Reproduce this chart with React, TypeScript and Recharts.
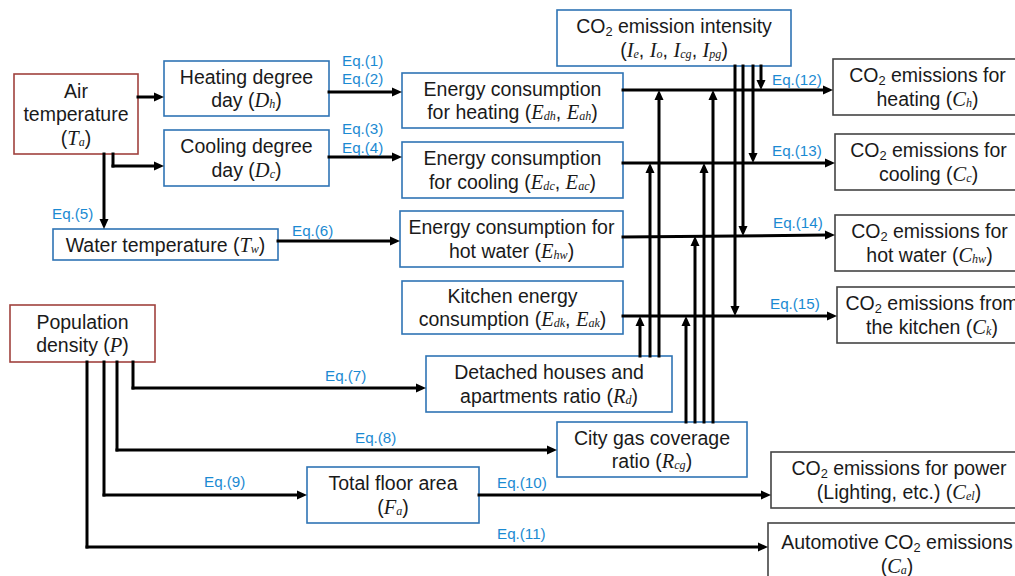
import React from 'react';
import {
  ScatterChart,
  Scatter,
  XAxis,
  YAxis,
  ReferenceArea,
  ReferenceLine,
  ReferenceDot,
} from 'recharts';

// diagram coordinates are in pixels of the 1015x576 picture
const inputNodes = [
  { id: 'air', x1: 14, y1: 74, x2: 138, y2: 154, lines: ['Air', 'temperature', '({T|a})'] },
  { id: 'pop', x1: 10, y1: 305, x2: 155, y2: 362, lines: ['Population', 'density ({P})'] },
];

const modelNodes = [
  { id: 'hdd', x1: 164, y1: 61, x2: 329, y2: 116, lines: ['Heating degree', 'day ({D|h})'] },
  { id: 'cdd', x1: 164, y1: 130, x2: 329, y2: 186, lines: ['Cooling degree', 'day ({D|c})'] },
  { id: 'water', x1: 53, y1: 229, x2: 278, y2: 260, lines: ['Water temperature ({T|w})'] },
  { id: 'int', x1: 557, y1: 10, x2: 791, y2: 66, lines: ['CO_2 emission intensity', '({I|e}, {I|o}, {I|cg}, {I|pg})'] },
  { id: 'eh', x1: 402, y1: 73, x2: 623, y2: 128, lines: ['Energy consumption', 'for heating ({E|dh}, {E|ah})'] },
  { id: 'ec', x1: 402, y1: 142, x2: 623, y2: 198, lines: ['Energy consumption', 'for cooling ({E|dc}, {E|ac})'] },
  { id: 'ehw', x1: 400, y1: 211, x2: 623, y2: 267, lines: ['Energy consumption for', 'hot water ({E|hw})'] },
  { id: 'ek', x1: 402, y1: 281, x2: 623, y2: 334, lines: ['Kitchen energy', 'consumption ({E|dk}, {E|ak})'] },
  { id: 'rd', x1: 426, y1: 356, x2: 672, y2: 412, lines: ['Detached houses and', 'apartments ratio ({R|d})'] },
  { id: 'rcg', x1: 557, y1: 422, x2: 747, y2: 477, lines: ['City gas coverage', 'ratio ({R|cg})'] },
  { id: 'fa', x1: 307, y1: 467, x2: 479, y2: 523, lines: ['Total floor area', '({F|a})'] },
];

const outputNodes = [
  { id: 'ch', x1: 833, y1: 59, x2: 1022, y2: 115, lines: ['CO_2 emissions for', 'heating ({C|h})'] },
  { id: 'cc', x1: 835, y1: 134, x2: 1022, y2: 190, lines: ['CO_2 emissions for', 'cooling ({C|c})'] },
  { id: 'chw', x1: 835, y1: 215, x2: 1024, y2: 271, lines: ['CO_2 emissions for', 'hot water ({C|hw})'] },
  { id: 'ck', x1: 837, y1: 287, x2: 1027, y2: 343, lines: ['CO_2 emissions from', 'the kitchen ({C|k})'] },
  { id: 'cel', x1: 771, y1: 452, x2: 1027, y2: 508, lines: ['CO_2 emissions for power', '(Lighting, etc.)  ({C|el})'] },
  { id: 'ca', x1: 768, y1: 523, x2: 1026, y2: 585, lines: ['Automotive CO_2 emissions', '({C|a})'] },
];

// every link ends with an arrow head
const links = [
  [[138, 97], [164, 97]],
  [[113, 154], [113, 166], [164, 166]],
  [[104, 154], [104, 229]],
  [[329, 92], [402, 92]],
  [[329, 157], [402, 157]],
  [[278, 241], [400, 241]],
  [[623, 90], [833, 90]],
  [[623, 163], [835, 163]],
  [[623, 237], [835, 235]],
  [[623, 316], [837, 316]],
  [[761, 66], [761, 90]],
  [[753, 66], [753, 163]],
  [[743, 66], [743, 236]],
  [[735, 66], [735, 316]],
  [[640, 356], [640, 316]],
  [[650, 356], [650, 163]],
  [[659, 356], [659, 90]],
  [[686, 422], [686, 316]],
  [[695, 422], [695, 236]],
  [[704, 422], [704, 163]],
  [[713, 422], [713, 90]],
  [[133, 362], [133, 388], [426, 388]],
  [[117, 362], [117, 450], [557, 450]],
  [[104, 362], [104, 495], [307, 495]],
  [[87, 362], [87, 547], [768, 547]],
  [[479, 495], [771, 495]],
];

const eqLabels = [
  { text: 'Eq.(1)', x: 342, y: 60 },
  { text: 'Eq.(2)', x: 342, y: 78 },
  { text: 'Eq.(3)', x: 342, y: 128 },
  { text: 'Eq.(4)', x: 342, y: 147 },
  { text: 'Eq.(5)', x: 52, y: 213 },
  { text: 'Eq.(6)', x: 292, y: 230 },
  { text: 'Eq.(7)', x: 325, y: 375 },
  { text: 'Eq.(8)', x: 355, y: 437 },
  { text: 'Eq.(9)', x: 204, y: 481 },
  { text: 'Eq.(10)', x: 497, y: 482 },
  { text: 'Eq.(11)', x: 497, y: 533 },
  { text: 'Eq.(12)', x: 772, y: 79 },
  { text: 'Eq.(13)', x: 772, y: 150 },
  { text: 'Eq.(14)', x: 773, y: 222 },
  { text: 'Eq.(15)', x: 770, y: 303 },
];

const SANS = '"Liberation Sans", Arial, sans-serif';
const SERIF = '"Liberation Serif", "Times New Roman", serif';
const FS = 19.5;
const LH = 23.5;
const strokeOf: Record<string, string> = { input: '#a0423e', model: '#2f74b5', output: '#444444' };

function richSpans(src: string) {
  const parts = src.split(/(\{[^}]+\}|_\d)/g).filter((p) => p !== '');
  const out: React.ReactNode[] = [];
  let shift = 0;
  parts.forEach((p, i) => {
    const back = shift ? -shift : undefined;
    shift = 0;
    if (p.startsWith('_')) {
      out.push(<tspan key={i} dy={(back || 0) + 5} fontSize={FS * 0.66}>{p.slice(1)}</tspan>);
      shift = 5;
    } else if (p.startsWith('{')) {
      const [v, s] = p.slice(1, -1).split('|');
      out.push(
        <tspan key={i + 'v'} dy={back} fontFamily={SERIF} fontStyle="italic" fontSize={FS * 1.05}>{v}</tspan>
      );
      if (s) {
        out.push(
          <tspan key={i + 's'} dy={4} fontFamily={SERIF} fontStyle="italic" fontSize={FS * 0.62}>{s}</tspan>
        );
        shift = 4;
      }
    } else {
      out.push(<tspan key={i} dy={back}>{p}</tspan>);
    }
  });
  return out;
}

function NodeShape(props: any) {
  const { x, y, width, height, node, kind } = props;
  const cx = x + width / 2;
  const cy = y + height / 2;
  const n = node.lines.length;
  return (
    <g>
      <rect x={x} y={y} width={width} height={height} fill="#fff" stroke={strokeOf[kind]} strokeWidth={1.6} />
      {node.lines.map((ln: string, i: number) => (
        <text
          key={i}
          x={cx}
          y={cy + (i - (n - 1) / 2) * LH}
          textAnchor="middle"
          dominantBaseline="central"
          fontFamily={SANS}
          fontSize={FS}
          fill="#1a1a1a"
        >
          {richSpans(ln)}
        </text>
      ))}
    </g>
  );
}

function Segment(props: any) {
  const x1 = Number(props.x1), y1 = Number(props.y1), x2 = Number(props.x2), y2 = Number(props.y2);
  if (!props.arrow) {
    return <line x1={x1} y1={y1} x2={x2} y2={y2} stroke="#000" strokeWidth={3} strokeLinecap="square" />;
  }
  const len = Math.hypot(x2 - x1, y2 - y1) || 1;
  const ux = (x2 - x1) / len, uy = (y2 - y1) / len;
  const L = 10, hw = 4.5;
  const bx = x2 - ux * L, by = y2 - uy * L;
  const pts = `${x2},${y2} ${bx - uy * hw},${by + ux * hw} ${bx + uy * hw},${by - ux * hw}`;
  return (
    <g>
      <line x1={x1} y1={y1} x2={bx + ux} y2={by + uy} stroke="#000" strokeWidth={3} strokeLinecap="square" />
      <polygon points={pts} fill="#000" />
    </g>
  );
}

export default function App() {
  const nodes = [
    ...inputNodes.map((n) => ({ n, kind: 'input' })),
    ...modelNodes.map((n) => ({ n, kind: 'model' })),
    ...outputNodes.map((n) => ({ n, kind: 'output' })),
  ];
  const segs: { a: number[]; b: number[]; arrow: boolean }[] = [];
  links.forEach((pts) => {
    for (let i = 0; i < pts.length - 1; i++) {
      segs.push({ a: pts[i], b: pts[i + 1], arrow: i === pts.length - 2 });
    }
  });
  return (
    <div style={{ position: 'absolute', left: 0, top: 0, width: 1015, height: 576, background: '#fff' }}>
      <ScatterChart width={1015} height={576} margin={{ top: 0, right: 0, bottom: 0, left: 0 }}>
        <XAxis type="number" dataKey="x" domain={[0, 1015]} allowDataOverflow hide />
        <YAxis type="number" dataKey="y" domain={[0, 576]} allowDataOverflow reversed hide />
        <Scatter data={[]} isAnimationActive={false} />
        {segs.map((s, i) => (
          <ReferenceLine
            key={'l' + i}
            segment={[{ x: s.a[0], y: s.a[1] }, { x: s.b[0], y: s.b[1] }]}
            ifOverflow="visible"
            stroke="#000"
            shape={(p: any) => <Segment {...p} arrow={s.arrow} />}
          />
        ))}
        {nodes.map(({ n, kind }) => (
          <ReferenceArea
            key={n.id}
            x1={n.x1}
            x2={n.x2}
            y1={n.y1}
            y2={n.y2}
            ifOverflow="visible"
            shape={(p: any) => <NodeShape {...p} node={n} kind={kind} />}
          />
        ))}
        {eqLabels.map((e) => (
          <ReferenceDot
            key={e.text}
            x={e.x}
            y={e.y}
            ifOverflow="visible"
            shape={(p: any) => (
              <text
                x={p.cx}
                y={p.cy}
                dominantBaseline="central"
                fontFamily={SANS}
                fontSize={15.2}
                fill="#1b8ad2"
              >
                {e.text}
              </text>
            )}
          />
        ))}
      </ScatterChart>
    </div>
  );
}
